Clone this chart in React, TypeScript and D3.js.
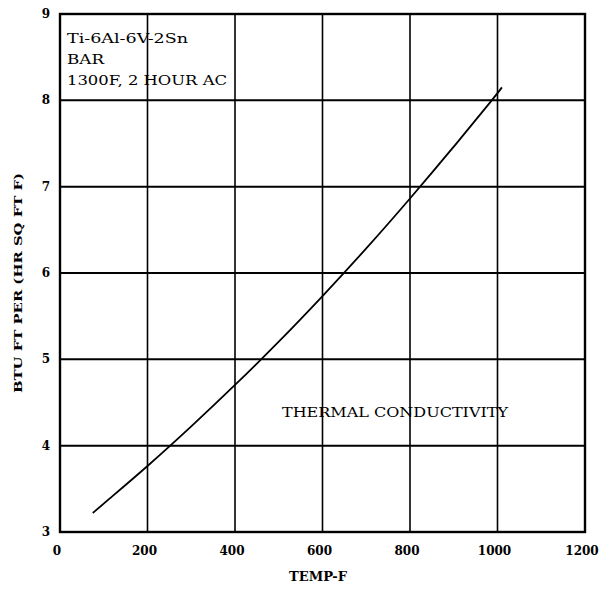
import React from "react";
import * as d3 from "d3";

const temps = [75, 100, 200, 300, 400, 500, 600, 700, 800, 900, 1000, 1010];
const conductivity = [3.22, 3.33, 3.76, 4.22, 4.7, 5.2, 5.73, 6.28, 6.86, 7.46, 8.08, 8.15];
const xTicks = [0, 200, 400, 600, 800, 1000, 1200];
const yTicks = [3, 4, 5, 6, 7, 8, 9];
const noteLines = ["Ti-6Al-6V-2Sn", "BAR", "1300F, 2 HOUR AC"];
const noteWidths = [121, 37, 160];
const curveLabel = "THERMAL CONDUCTIVITY";
const xTitle = "TEMP-F";
const yTitle = "BTU FT PER (HR SQ FT F)";

const W = 610;
const H = 590;
const left = 60;
const right = 585;
const top = 14;
const bottom = 532;
const font = "'DejaVu Serif', 'Liberation Serif', serif";

export default function App() {
  const x = d3.scaleLinear().domain([0, 1200]).range([left, right]);
  const y = d3.scaleLinear().domain([3, 9]).range([bottom, top]);
  const line = d3
    .line<number>()
    .x((_, i) => x(temps[i]))
    .y((d) => y(d))
    .curve(d3.curveBasis);
  const pts = conductivity;

  return (
    <svg
      width={W}
      height={H}
      style={{ position: "absolute", left: 0, top: 0, background: "#fff" }}
    >
      <rect x={0} y={0} width={W} height={H} fill="#fff" />
      {xTicks.slice(1, -1).map((t) => (
        <line key={"vx" + t} x1={x(t)} x2={x(t)} y1={top} y2={bottom} stroke="#000" strokeWidth={1.6} />
      ))}
      {yTicks.slice(1, -1).map((t) => (
        <line key={"hy" + t} x1={left} x2={right} y1={y(t)} y2={y(t)} stroke="#000" strokeWidth={2} />
      ))}
      <rect x={left} y={top} width={right - left} height={bottom - top} fill="none" stroke="#000" strokeWidth={2.4} />
      <path d={line(pts) || ""} fill="none" stroke="#000" strokeWidth={1.8} />
      {xTicks.map((t) => (
        <text key={"xt" + t} x={x(t) - 3} y={555} textAnchor="middle" fontFamily={font} fontWeight="bold" fontSize={12}>
          {t}
        </text>
      ))}
      {yTicks.map((t) => (
        <text key={"yt" + t} x={46} y={y(t) + 4} textAnchor="middle" fontFamily={font} fontWeight="bold" fontSize={12}>
          {t}
        </text>
      ))}
      <text x={318} y={581} textAnchor="middle" fontFamily={font} fontWeight="bold" fontSize={12} textLength={58} lengthAdjust="spacingAndGlyphs">
        {xTitle}
      </text>
      <text
        transform={`translate(22, 283) rotate(-90)`}
        textAnchor="middle"
        fontFamily={font}
        fontWeight="bold"
        fontSize={11.5}
        textLength={220}
        lengthAdjust="spacingAndGlyphs"
      >
        {yTitle}
      </text>
      {noteLines.map((s, i) => (
        <text key={s} x={67} y={43 + i * 21} fontFamily={font} fontSize={13} textLength={noteWidths[i]} lengthAdjust="spacingAndGlyphs">
          {s}
        </text>
      ))}
      <text x={282} y={417} fontFamily={font} fontSize={12.5} textLength={226} lengthAdjust="spacingAndGlyphs">
        {curveLabel}
      </text>
    </svg>
  );
}
